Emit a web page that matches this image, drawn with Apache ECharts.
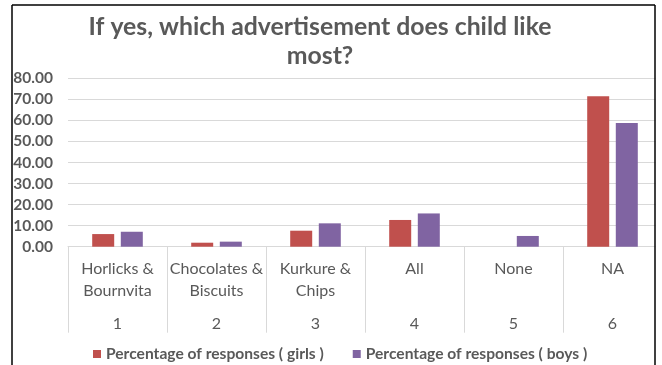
<!DOCTYPE html>
<html>
<head>
<meta charset="utf-8">
<script src="https://cdn.jsdelivr.net/npm/echarts@6/dist/echarts.min.js"></script>
<style>
html,body{margin:0;padding:0;background:#fff;}
#chart{width:662px;height:365px;}
</style>
</head>
<body>
<div id="chart"></div>
<script>
const categories = ["Horlicks &\nBournvita", "Chocolates &\nBiscuits", "Kurkure &\nChips", "All", "None", "NA"];
const categoryNumbers = ["1", "2", "3", "4", "5", "6"];
const girls = [6.0, 1.9, 7.6, 12.7, 0, 71.5];
const boys = [7.1, 2.4, 11.1, 15.8, 5.1, 58.8];
const seriesNames = ["Percentage of responses ( girls )", "Percentage of responses ( boys )"];
const titleText = "If yes, which advertisement does child like\nmost?";

const FONT = "Lato, 'Liberation Sans', sans-serif";
const TXT = "#595959";
const GRID = "#d9d9d9";

const chart = echarts.init(document.getElementById('chart'));
chart.setOption({
  animation: false,
  backgroundColor: "#fff",
  textStyle: { fontFamily: FONT },
  title: {
    text: titleText,
    left: 315,
    top: 8,
    textAlign: "center",
    textStyle: { fontFamily: FONT, fontSize: 24.8, fontWeight: "bold", color: TXT, lineHeight: 29 }
  },
  legend: {
    data: seriesNames,
    top: 341,
    left: 88,
    itemWidth: 8,
    itemHeight: 8,
    itemGap: 29,
    icon: "rect",
    textStyle: { fontFamily: FONT, fontSize: 15.6, fontWeight: "bold", color: TXT }
  },
  grid: { left: 68, top: 78.3, width: 600, height: 168.4 },
  xAxis: [
    {
      type: "category",
      data: categories,
      position: "bottom",
      axisLine: { lineStyle: { color: GRID, width: 1 } },
      axisTick: { show: true, length: 86, lineStyle: { color: GRID } },
      axisLabel: { margin: 11, fontSize: 16, color: TXT, lineHeight: 22, fontFamily: FONT, interval: 0 }
    },
    {
      type: "category",
      data: categoryNumbers,
      position: "bottom",
      axisLine: { show: false },
      axisTick: { show: false },
      axisLabel: { margin: 66, fontSize: 16, color: TXT, lineHeight: 22, fontFamily: FONT, interval: 0 }
    }
  ],
  yAxis: {
    type: "value",
    min: 0,
    max: 80,
    interval: 10,
    axisLine: { show: false },
    axisTick: { show: false },
    splitLine: { lineStyle: { color: GRID } },
    axisLabel: {
      margin: 15,
      fontSize: 15.5,
      fontWeight: "bold",
      color: TXT,
      fontFamily: FONT,
      formatter: v => v.toFixed(2)
    }
  },
  series: [
    {
      name: seriesNames[0], type: "bar", data: girls, xAxisIndex: 0,
      barWidth: 22, barGap: "30%",
      itemStyle: { color: "#C0504D" }
    },
    {
      name: seriesNames[1], type: "bar", data: boys, xAxisIndex: 0,
      barWidth: 22, barGap: "30%",
      itemStyle: { color: "#8064A2" }
    }
  ],
  graphic: [
    { type: "rect", z: 100, shape: { x: 655.5, y: 0, width: 10, height: 365 }, style: { fill: "#fff" } },
    { type: "line", z: 101, shape: { x1: 12, y1: 5, x2: 655, y2: 5 }, style: { stroke: "#000", lineWidth: 1.5 } },
    { type: "line", z: 101, shape: { x1: 12, y1: 5, x2: 12, y2: 365 }, style: { stroke: "#000", lineWidth: 1.5 } },
    { type: "line", z: 101, shape: { x1: 655, y1: 5, x2: 655, y2: 365 }, style: { stroke: "#000", lineWidth: 1.5 } }
  ]
});
</script>
</body>
</html>
